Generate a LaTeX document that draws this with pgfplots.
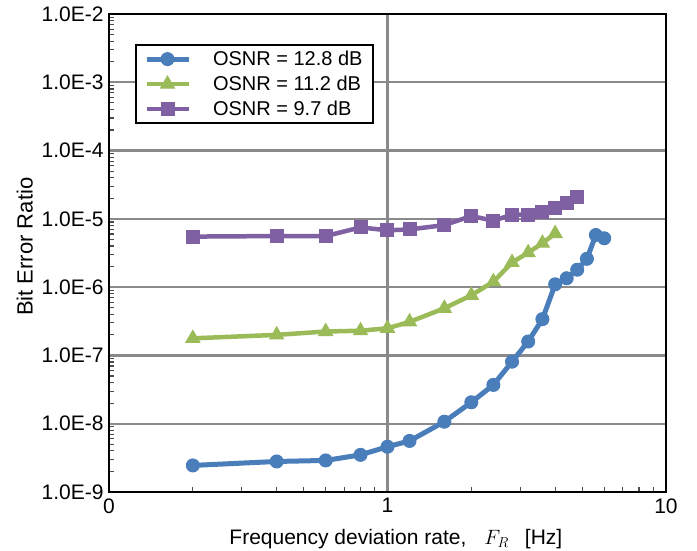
\documentclass[border=0pt]{standalone}
\usepackage{pgfplots}
\pgfplotsset{compat=1.18}
\usepackage{fontspec}
\setmainfont{Liberation Sans}
\definecolor{cblue}{HTML}{4A7EBB}
\definecolor{cgreen}{HTML}{9BBB59}
\definecolor{cpurple}{HTML}{7F60A3}
\definecolor{cgrid}{HTML}{8A8A8A}
\begin{document}
\begin{tikzpicture}[x=1pt,y=1pt]
\useasboundingbox (-109,-59) rectangle (588,492);
\begin{axis}[
  at={(0,0)}, anchor=south west,
  width=557pt, height=478pt, scale only axis,
  xmode=log, ymode=log,
  xmin=0.1, xmax=10, ymin=1e-9, ymax=1e-2,
  xtick={0.1,1,10}, xticklabels={0,1,10},
  ytick={1e-9,1e-8,1e-7,1e-6,1e-5,1e-4,1e-3,1e-2},
  yticklabels={1.0E-9,1.0E-8,1.0E-7,1.0E-6,1.0E-5,1.0E-4,1.0E-3,1.0E-2},
  minor xtick={0.2,0.3,0.4,0.5,0.6,0.7,0.8,0.9,2,3,4,5,6,7,8,9},
  minor ytick={2e-9,3e-9,4e-9,5e-9,6e-9,7e-9,8e-9,9e-9,
               2e-8,3e-8,4e-8,5e-8,6e-8,7e-8,8e-8,9e-8,
               2e-7,3e-7,4e-7,5e-7,6e-7,7e-7,8e-7,9e-7,
               2e-6,3e-6,4e-6,5e-6,6e-6,7e-6,8e-6,9e-6,
               2e-5,3e-5,4e-5,5e-5,6e-5,7e-5,8e-5,9e-5,
               2e-4,3e-4,4e-4,5e-4,6e-4,7e-4,8e-4,9e-4,
               2e-3,3e-3,4e-3,5e-3,6e-3,7e-3,8e-3,9e-3},
  xtick pos=lower, ytick pos=left,
  tick align=inside,
  major tick length=0pt, minor tick length=5pt,
  minor tick style={draw=black!70, line width=1.2pt},
  xmajorgrids, ymajorgrids,
  major grid style={draw=cgrid, line width=2.2pt},
  axis line style={draw=black, line width=2.6pt},
  tick label style={font=\fontsize{21}{25}\selectfont},
  yticklabel style={xshift=-2pt},
  xticklabel style={yshift=-3pt},
  xlabel={Frequency deviation rate,\hspace{18pt}$F_R$\hspace{16pt}[Hz]},
  ylabel={Bit Error Ratio},
  xlabel style={font=\fontsize{21}{25}\selectfont, at={(axis description cs:0.515,-0.098)}, anchor=center},
  ylabel style={font=\fontsize{22}{26}\selectfont, at={(axis description cs:-0.151,0.513)}, anchor=center},
  legend style={at={(axis description cs:0.0467,0.937)}, anchor=north west,
    draw=black, line width=2pt, fill=white,
    font=\fontsize{20}{23}\selectfont,
    inner xsep=8pt, inner ysep=4pt, row sep=5pt},
  legend cell align=left,
  legend image code/.code={\draw[mark repeat=2,mark phase=2,#1] plot coordinates {(0pt,0pt) (21pt,0pt) (42pt,0pt)};},
  legend columns=1,
]
\addplot[cblue, line width=5pt, mark=*, mark size=6.5pt, mark options={fill=cblue, draw=cblue, line width=1pt}]
coordinates {
(0.2,2.45e-9)(0.4,2.8e-9)(0.6,2.9e-9)(0.8,3.5e-9)(1.0,4.6e-9)(1.2,5.6e-9)
(1.6,1.07e-8)(2.0,2.06e-8)(2.4,3.7e-8)(2.8,8.1e-8)(3.2,1.6e-7)(3.6,3.4e-7)
(4.0,1.1e-6)(4.4,1.35e-6)(4.8,1.8e-6)(5.2,2.6e-6)(5.6,5.8e-6)(6.0,5.2e-6)};
\addlegendentry{\hspace{20pt}OSNR = 12.8 dB}
\addplot[cgreen, line width=4.5pt, mark=triangle*, mark size=8pt, mark options={fill=cgreen, draw=cgreen, line width=1pt}]
coordinates {
(0.2,1.78e-7)(0.4,2.0e-7)(0.6,2.24e-7)(0.8,2.3e-7)(1.0,2.5e-7)(1.2,3.1e-7)
(1.6,4.9e-7)(2.0,7.6e-7)(2.4,1.2e-6)(2.8,2.3e-6)(3.2,3.2e-6)(3.6,4.4e-6)(4.0,6.1e-6)};
\addlegendentry{\hspace{20pt}OSNR = 11.2 dB}
\addplot[cpurple, line width=4.5pt, mark=square*, mark size=6.5pt, mark options={fill=cpurple, draw=cpurple, line width=1pt}]
coordinates {
(0.2,5.5e-6)(0.4,5.6e-6)(0.6,5.6e-6)(0.8,7.5e-6)(1.0,6.8e-6)(1.2,7.0e-6)
(1.6,8.1e-6)(2.0,1.1e-5)(2.4,9.4e-6)(2.8,1.15e-5)(3.2,1.15e-5)(3.6,1.27e-5)
(4.0,1.43e-5)(4.4,1.7e-5)(4.8,2.1e-5)};
\addlegendentry{\hspace{20pt}OSNR = 9.7 dB}
\end{axis}
\end{tikzpicture}
\end{document}
